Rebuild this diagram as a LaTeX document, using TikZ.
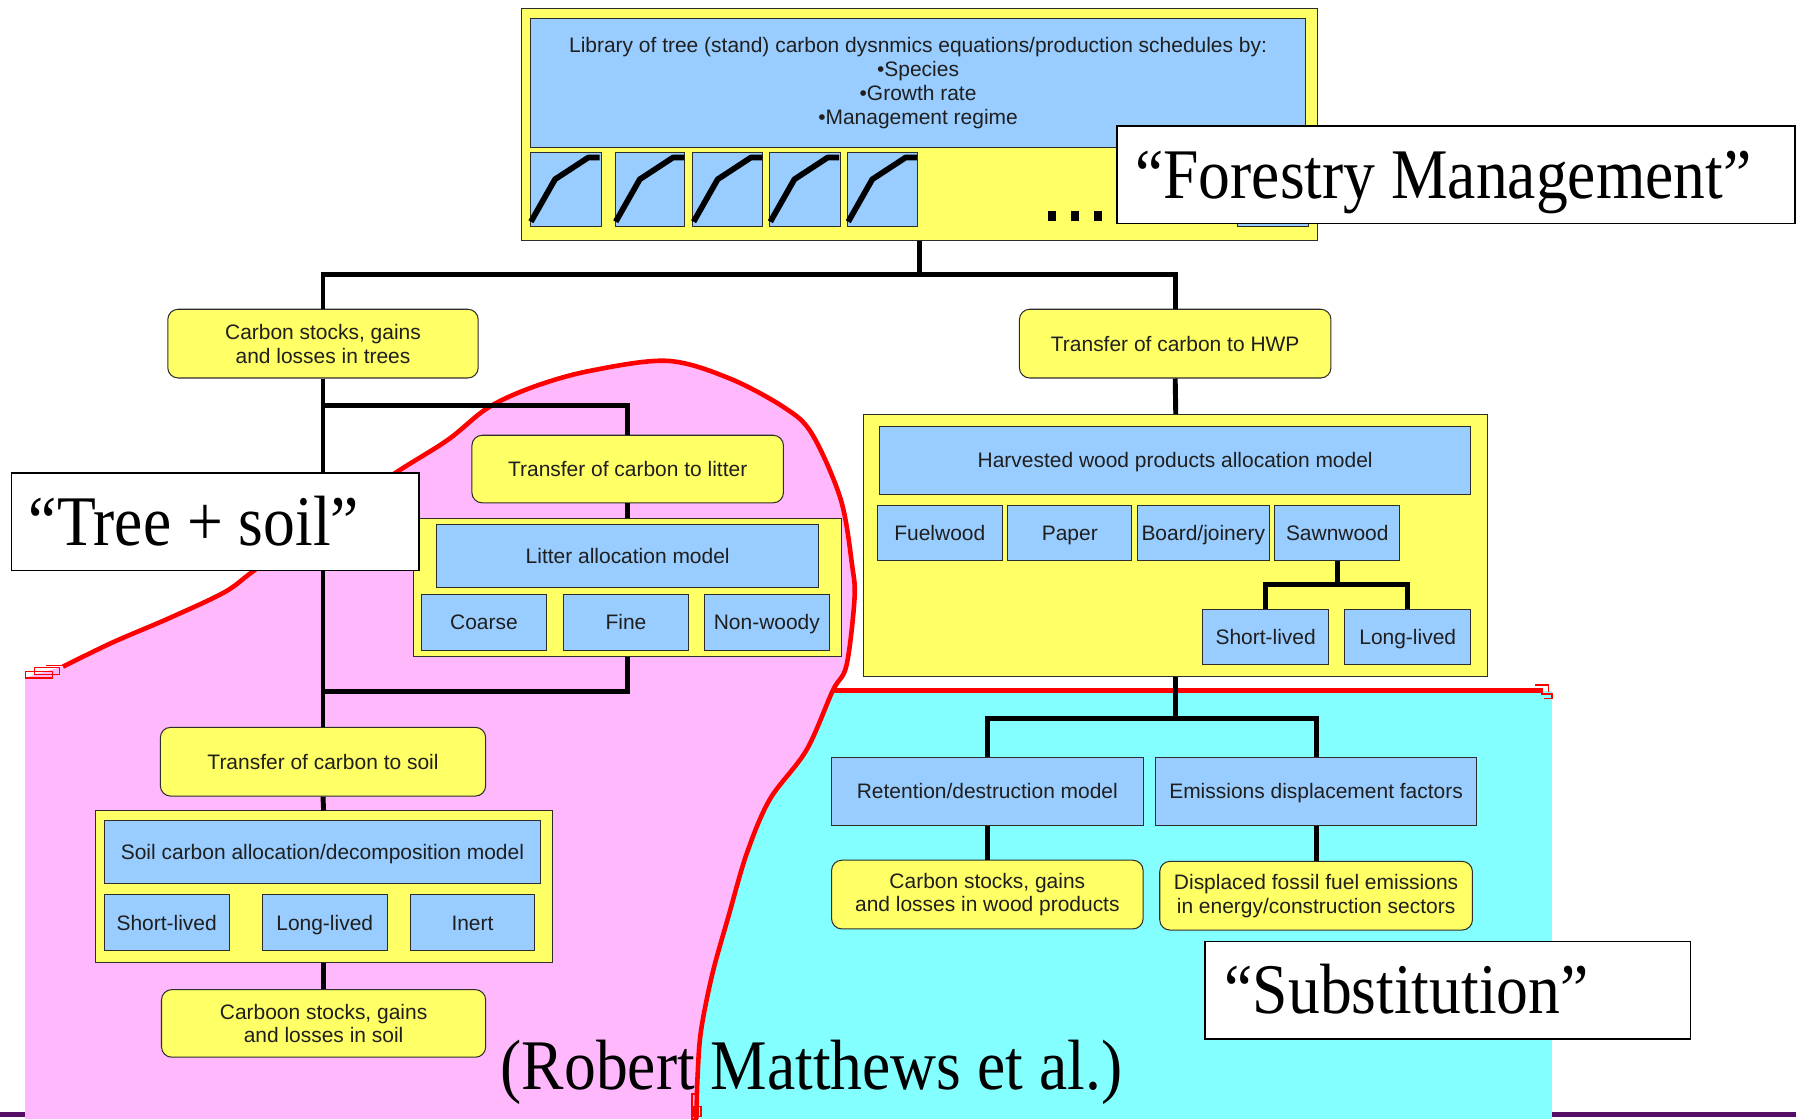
\documentclass[tikz,border=0pt]{standalone}
\usepackage{fontspec}
\setmainfont{Liberation Serif}
\setsansfont{Liberation Sans}
\usetikzlibrary{calc}
\definecolor{yel}{RGB}{255,255,102}
\definecolor{blu}{RGB}{153,204,255}
\definecolor{pinkc}{RGB}{255,184,252}
\definecolor{cyanc}{RGB}{132,255,255}
\definecolor{redc}{RGB}{255,0,0}
\definecolor{purp}{RGB}{84,14,100}
\definecolor{edgec}{RGB}{45,45,45}
\newcommand{\tallserif}[1]{\scalebox{1}[1.12]{#1}}
\begin{document}
\begin{tikzpicture}[x=1pt,y=-1pt,
  bx/.style={draw=edgec, line width=0.9pt, inner sep=0pt, align=center, text=black!88,
    font=\sffamily\fontsize{18.3}{20.8}\selectfont},
  yround/.style={bx, fill=yel, rounded corners=9pt},
  yrect/.style={bx, fill=yel},
  brect/.style={bx, fill=blu},
  one/.style={text height=16pt, text depth=3pt},
  conn/.style={line width=4.3pt, black},
  chart/.style={brect, minimum width=62pt, minimum height=65pt},
  curveline/.style={line width=5pt, line join=round, black},
  labbox/.style={draw=black, line width=1.3pt, fill=white, inner sep=0pt},
  labtext/.style={font=\rmfamily\fontsize{55.5}{60}\selectfont, inner sep=0pt, anchor=base west},
  redline/.style={redc, line width=4pt}
]
\useasboundingbox (0,0) rectangle (1568,977);
\fill[white] (0,0) rectangle (1568,977);

% ---- background regions ----
\fill[cyanc] (600,603) rectangle (1355,977);
\fill[pinkc] (22,592) -- (40,586) -- plot[smooth,tension=0.55] coordinates {(55,582) (98,561) (147,540) (196,517) (222,498) (280,457) (345,413) (391,384) (426,356) (465,338) (514,324) (582,315) (636,330) (685,356) (709,379) (734,436) (744,494) (746,523) (739,581) (727,603) (704,655) (672,698) (652,745) (636,800) (622,850) (612,900) (609,940) (608,977)} -- (22,977) -- cycle;
\draw[redline] plot[smooth,tension=0.55] coordinates {(55,582) (98,561) (147,540) (196,517) (222,498) (280,457) (345,413) (391,384) (426,356) (465,338) (514,324) (582,315) (636,330) (685,356) (709,379) (734,436) (744,494) (746,523) (739,581) (727,603) (704,655) (672,698) (652,745) (636,800) (622,850) (612,900) (609,940) (608,977)};
\draw[redline] (727,603) -- (1347,603);
\draw[redc, line width=1.2pt] (22,586) rectangle (46,592) (30,583) rectangle (52,589) (40,581) -- (58,581)
  (1340,598) -- (1352,598) -- (1352,604) (1345,606) -- (1355,606) -- (1355,610) -- (1348,610)
  (604,955) rectangle (609,977) (606,966) rectangle (612,975);
\fill[purp] (0,971) rectangle (22,975);
\fill[purp] (1355,971) rectangle (1568,975);

% ---- top library box ----
\node[yrect, minimum width=695pt, minimum height=203pt] (top) at (802.5,108.5) {};
\node[brect, minimum width=677pt, minimum height=112pt] (topblue) at (801.5,72.5)
  {Library of tree (stand) carbon dysnmics equations/production schedules by:\\
   •Species\\ •Growth rate\\ •Management regime};
\node[chart] (c1) at (494,165.5) {};
\node[chart, minimum width=61pt] (c2) at (567.5,165.5) {};
\node[chart, minimum width=61pt] (c3) at (635.5,165.5) {};
\node[chart] (c4) at (703,165.5) {};
\node[chart, minimum width=61pt] (c5) at (770.5,165.5) {};
\node[chart] (c6) at (1111,165.5) {};
\foreach \c in {c1,c2,c3,c4,c5}
  \draw[curveline] ($(\c.north west)+(1,61)$) -- ($(\c.north west)+(22,24)$) -- ($(\c.north west)+(51,5)$) -- ($(\c.north west)+(61,5)$);
\fill (915,184) rectangle (922,193);
\fill (935,184) rectangle (942,193);
\fill (955,184) rectangle (962,193);

% ---- left branch ----
\node[yround, minimum width=271pt, minimum height=60pt] (trees) at (282,300) {Carbon stocks, gains\\and losses in trees};
\node[yround, one, minimum width=272pt, minimum height=59pt] (litter) at (548,409.5) {Transfer of carbon to litter};
\node[yrect, minimum width=374pt, minimum height=120pt] (littercont) at (548,513) {};
\node[brect, one, minimum width=334pt, minimum height=55pt] (littermodel) at (548,485.5) {Litter allocation model};
\node[brect, one, minimum width=109pt, minimum height=49pt] (coarse) at (422.5,543.5) {Coarse};
\node[brect, one, minimum width=109pt, minimum height=49pt] (fine) at (546.5,543.5) {Fine};
\node[brect, one, minimum width=109pt, minimum height=49pt] (nonwoody) at (669.5,543.5) {Non-woody};
\node[yround, one, minimum width=284pt, minimum height=60pt] (soiltrans) at (282,665) {Transfer of carbon to soil};
\node[yrect, minimum width=399pt, minimum height=132pt] (soilcont) at (282.5,774) {};
\node[brect, one, minimum width=381pt, minimum height=55pt] (soilmodel) at (281.5,743.5) {Soil carbon allocation/decomposition model};
\node[brect, one, minimum width=109pt, minimum height=49pt] (sshort) at (145.5,805.5) {Short-lived};
\node[brect, one, minimum width=109pt, minimum height=49pt] (slong) at (283.5,805.5) {Long-lived};
\node[brect, one, minimum width=109pt, minimum height=49pt] (inert) at (412.5,805.5) {Inert};
\node[yround, minimum width=283pt, minimum height=59pt] (soilstock) at (282.5,893.5) {Carboon stocks, gains\\and losses in soil};

% ---- right branch ----
\node[yround, one, minimum width=272pt, minimum height=60pt] (hwp) at (1026,300) {Transfer of carbon to HWP};
\node[yrect, minimum width=545pt, minimum height=229pt] (hwpcont) at (1026.5,476.5) {};
\node[brect, one, minimum width=516pt, minimum height=60pt] (hwpmodel) at (1026,402) {Harvested wood products allocation model};
\node[brect, one, minimum width=109pt, minimum height=48pt] (fuel) at (820.5,465) {Fuelwood};
\node[brect, one, minimum width=108pt, minimum height=48pt] (paper) at (934,465) {Paper};
\node[brect, one, minimum width=115pt, minimum height=48pt] (board) at (1050.5,465) {Board/joinery};
\node[brect, one, minimum width=109pt, minimum height=48pt] (sawn) at (1167.5,465) {Sawnwood};
\node[brect, one, minimum width=110pt, minimum height=48pt] (hshort) at (1105,556) {Short-lived};
\node[brect, one, minimum width=110pt, minimum height=48pt] (hlong) at (1229,556) {Long-lived};
\node[brect, one, minimum width=272pt, minimum height=60pt] (retention) at (862,691) {Retention/destruction model};
\node[brect, one, minimum width=280pt, minimum height=60pt] (emis) at (1149,691) {Emissions displacement factors};
\node[yround, minimum width=272pt, minimum height=60pt] (woodstock) at (862,781) {Carbon stocks, gains\\and losses in wood products};
\node[yround, minimum width=273pt, minimum height=60pt] (displaced) at (1149,782) {Displaced fossil fuel emissions\\in energy/construction sectors};

% ---- connectors ----
\coordinate (j1) at (802.5,240);
\draw[conn] (top.south) -- (j1);
\draw[conn] (j1) -| (trees.north);
\draw[conn] (j1) -| (hwp.north);
\draw[conn] (trees.south) -- (soiltrans.north);
\coordinate (j2) at (282,354);
\draw[conn] (j2) -| (litter.north);
\draw[conn] (litter.south) -- (littercont.north);
\coordinate (j3) at (282,604);
\draw[conn] (littercont.south) |- (j3);
\draw[conn] (soiltrans.south) -- (soilcont.north);
\draw[conn] (soilcont.south) -- (soilstock.north);
\draw[conn] (hwp.south) -- (hwpcont.north);
\coordinate (j4) at (1167.5,510);
\draw[conn] (sawn.south) -- (j4);
\draw[conn] (j4) -| (hshort.north);
\draw[conn] (j4) -| (hlong.north);
\coordinate (j5) at (1026.5,627);
\draw[conn] (hwpcont.south) -- (j5);
\draw[conn] (j5) -| (retention.north);
\draw[conn] (j5) -| (emis.north);
\draw[conn] (retention.south) -- (woodstock.north);
\draw[conn] (emis.south) -- (emis.south |- displaced.north);

% ---- labels ----
\node[labbox, minimum width=592pt, minimum height=85pt] (fm) at (1271,152.5) {};
\node[labtext] (fmt) at (991,173) {\tallserif{“Forestry Management”}};
\node[labbox, minimum width=356pt, minimum height=85pt] (ts) at (188,455.5) {};
\node[labtext] (tst) at (25,476) {\tallserif{“Tree + soil”}};
\node[labbox, minimum width=424pt, minimum height=85pt] (sub) at (1264,864.5) {};
\node[labtext] (subt) at (1069,885) {\tallserif{“Substitution”}};
\node[labtext] (auth) at (437,951) {\tallserif{(Robert Matthews et al.)}};
\end{tikzpicture}
\end{document}
